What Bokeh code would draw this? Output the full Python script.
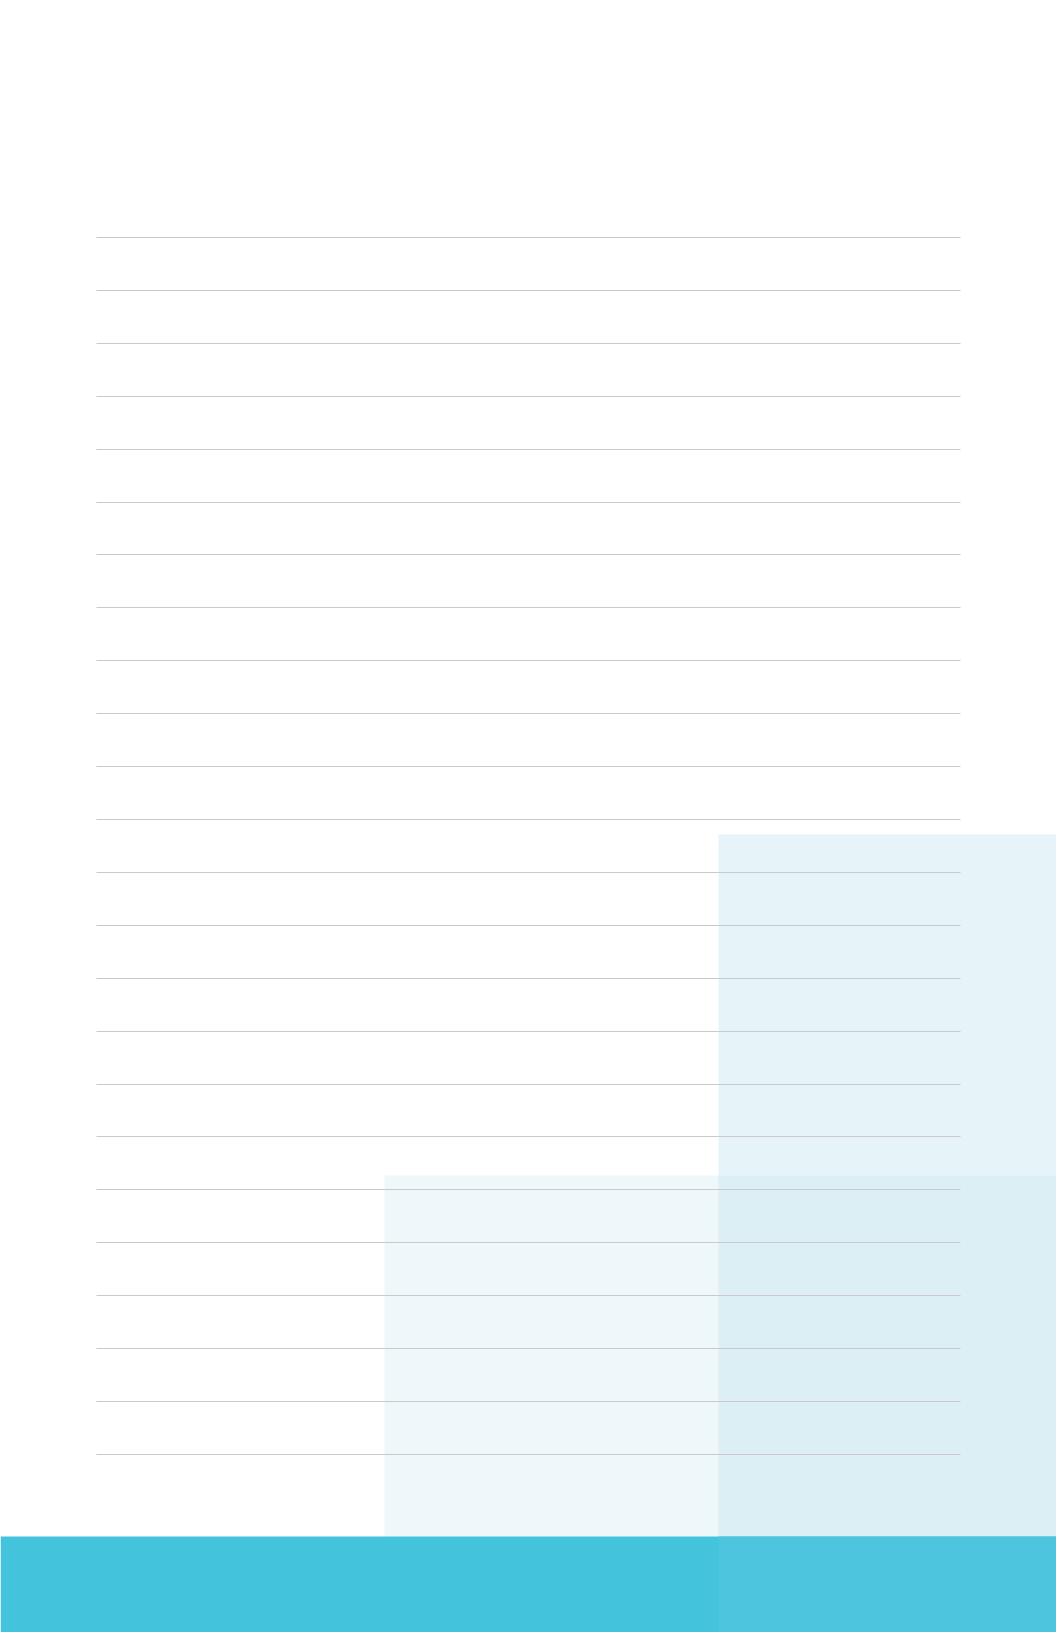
from bokeh.plotting import figure
from bokeh.models import Range1d, ColumnDataSource
from bokeh.embed import file_html
from bokeh.resources import INLINE

# Horizontal rule positions (page units, measured from the top)
rule_levels = [237, 290, 343, 396, 449, 502, 554, 607, 660, 713, 766, 819,
               872, 925, 978, 1031, 1084, 1136, 1189, 1242, 1295, 1348, 1401, 1454]
rule_start = 96
rule_end = 960

# Shaded tiers (stepped blocks), drawn in order, later ones on top
tier_names = ["high", "mid", "overlap", "base", "base_right"]
tier_left = [718, 384, 718, 0, 718]
tier_right = [1056, 1056, 1056, 1056, 1056]
tier_top = [834, 1175, 1175, 1536, 1536]
tier_bottom = [1536, 1536, 1536, 1632, 1632]
tier_color = ["#e6f4fa", "#eef7fa", "#dbeff5", "#43c3dc", "#4dc5de"]

W, H = 1056, 1632
p = figure(width=W, height=H, output_backend="svg", toolbar_location=None,
           x_range=Range1d(0, W), y_range=Range1d(H, 0),
           min_border=0, outline_line_color=None,
           background_fill_color="white", border_fill_color="white")
p.axis.visible = False
p.xgrid.visible = False
p.ygrid.visible = False

tiers = ColumnDataSource(dict(name=tier_names, left=tier_left, right=tier_right,
                              top=tier_top, bottom=tier_bottom, color=tier_color))
p.quad(left="left", right="right", top="top", bottom="bottom", source=tiers,
       fill_color="color", line_color=None)

rules = ColumnDataSource(dict(y=rule_levels,
                              x0=[rule_start] * len(rule_levels),
                              x1=[rule_end] * len(rule_levels)))
p.segment(x0="x0", x1="x1", y0="y", y1="y", source=rules,
          line_color="#cacacd", line_width=1.2)

open("out.html", "w").write(file_html(p, INLINE))
